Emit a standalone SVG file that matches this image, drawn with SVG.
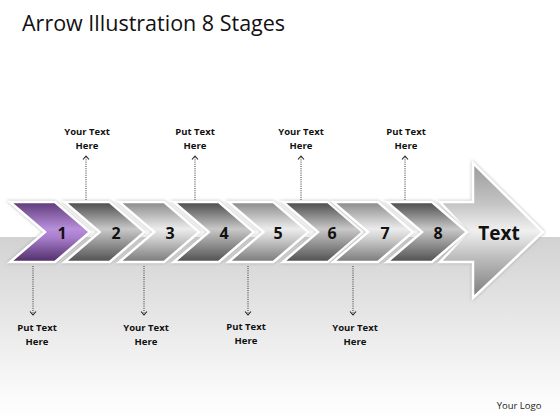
<svg xmlns="http://www.w3.org/2000/svg" width="560" height="420" viewBox="0 0 560 420">
<style>
.lbl{font-family:"Open Sans","Liberation Sans",sans-serif;font-weight:bold;font-size:9.5px;fill:#111;text-anchor:middle}
.num{font-family:"Open Sans","Liberation Sans",sans-serif;font-weight:bold;font-size:16px;fill:#111;text-anchor:middle}
.conn{stroke:#333;stroke-width:1;stroke-dasharray:1 1.2;fill:none}
.chev{stroke:#fff;stroke-width:2.5;stroke-linejoin:miter;filter:url(#glow)}
</style>
<defs>
<linearGradient id="bg" x1="0" y1="0" x2="0" y2="1">
<stop offset="0" stop-color="#d2d2d2"/>
<stop offset="0.85" stop-color="#fafafa"/>
<stop offset="1" stop-color="#ffffff"/>
</linearGradient>
<linearGradient id="purple" x1="0" y1="202" x2="0" y2="262" gradientUnits="userSpaceOnUse">
<stop offset="0" stop-color="#5e3a78"/>
<stop offset="0.45" stop-color="#b88fdc"/>
<stop offset="0.6" stop-color="#a77ccc"/>
<stop offset="1" stop-color="#4e2d66"/>
</linearGradient>
<linearGradient id="dark" x1="0" y1="202" x2="0" y2="262" gradientUnits="userSpaceOnUse">
<stop offset="0" stop-color="#4a4a4a"/>
<stop offset="0.45" stop-color="#c8c8c8"/>
<stop offset="0.6" stop-color="#a8a8a8"/>
<stop offset="1" stop-color="#505050"/>
</linearGradient>
<linearGradient id="light" x1="0" y1="202" x2="0" y2="262" gradientUnits="userSpaceOnUse">
<stop offset="0" stop-color="#8a8a8a"/>
<stop offset="0.45" stop-color="#ececec"/>
<stop offset="0.6" stop-color="#d0d0d0"/>
<stop offset="1" stop-color="#7a7a7a"/>
</linearGradient>
<linearGradient id="big" x1="0" y1="163" x2="0" y2="298" gradientUnits="userSpaceOnUse">
<stop offset="0" stop-color="#9a9a9a"/>
<stop offset="0.3" stop-color="#c4c4c4"/>
<stop offset="0.5" stop-color="#f0f0f0"/>
<stop offset="0.7" stop-color="#bdbdbd"/>
<stop offset="1" stop-color="#7c7c7c"/>
</linearGradient>
<filter id="glow" x="-20%" y="-20%" width="140%" height="140%">
<feDropShadow dx="0" dy="0" stdDeviation="1.5" flood-color="#888" flood-opacity="0.7"/>
</filter>
<marker id="ah" viewBox="0 0 8 8" refX="5" refY="4" markerWidth="8" markerHeight="8" markerUnits="userSpaceOnUse" orient="auto">
<path d="M1.5,1 L5,4 L1.5,7" fill="none" stroke="#222" stroke-width="1.1"/>
</marker>
</defs>
<rect x="0" y="0" width="560" height="420" fill="#fff"/>
<rect x="0" y="237" width="560" height="183" fill="url(#bg)"/>
<text x="22" y="31" font-family="Open Sans, Liberation Sans, sans-serif" font-size="21.5" fill="#111">Arrow Illustration 8 Stages</text>

<g id="connectors">
<line class="conn" x1="86" y1="200" x2="86" y2="156" marker-end="url(#ah)"/>
<line class="conn" x1="195" y1="200" x2="195" y2="156" marker-end="url(#ah)"/>
<line class="conn" x1="301" y1="200" x2="301" y2="156" marker-end="url(#ah)"/>
<line class="conn" x1="405" y1="200" x2="405" y2="156" marker-end="url(#ah)"/>
<line class="conn" x1="33" y1="266" x2="33" y2="315" marker-end="url(#ah)"/>
<line class="conn" x1="144" y1="266" x2="144" y2="315" marker-end="url(#ah)"/>
<line class="conn" x1="248" y1="266" x2="248" y2="315" marker-end="url(#ah)"/>
<line class="conn" x1="353" y1="266" x2="353" y2="315" marker-end="url(#ah)"/>
</g>

<g id="bigArrow">
<path class="chev" d="M440,202 L473,202 L473,163 L543,232 L473,298 L473,262 L440,262 L468,232 Z" fill="url(#big)"/>
<text x="499" y="240" font-family="Open Sans, Liberation Sans, sans-serif" font-weight="bold" font-size="19" fill="#111" text-anchor="middle">Text</text>
</g>
<g id="stage1"><path class="chev" d="M10,202 L55,202 L90,232 L55,262 L10,262 L45,232 Z" fill="url(#purple)"/><text class="num" x="62" y="239">1</text></g>
<g id="stage2"><path class="chev" d="M64.6,202 L109.6,202 L144.6,232 L109.6,262 L64.6,262 L99.6,232 Z" fill="url(#dark)"/><text class="num" x="116" y="239">2</text></g>
<g id="stage3"><path class="chev" d="M119.2,202 L164.2,202 L199.2,232 L164.2,262 L119.2,262 L154.2,232 Z" fill="url(#light)"/><text class="num" x="170" y="239">3</text></g>
<g id="stage4"><path class="chev" d="M173.8,202 L218.8,202 L253.8,232 L218.8,262 L173.8,262 L208.8,232 Z" fill="url(#dark)"/><text class="num" x="224" y="239">4</text></g>
<g id="stage5"><path class="chev" d="M228.4,202 L273.4,202 L308.4,232 L273.4,262 L228.4,262 L263.4,232 Z" fill="url(#light)"/><text class="num" x="278" y="239">5</text></g>
<g id="stage6"><path class="chev" d="M283,202 L328,202 L363,232 L328,262 L283,262 L318,232 Z" fill="url(#dark)"/><text class="num" x="332" y="239">6</text></g>
<g id="stage7"><path class="chev" d="M333,202 L378,202 L413,232 L378,262 L333,262 L368,232 Z" fill="url(#light)"/><text class="num" x="385" y="239">7</text></g>
<g id="stage8"><path class="chev" d="M387,202 L432,202 L467,232 L432,262 L387,262 L422,232 Z" fill="url(#dark)"/><text class="num" x="438" y="239">8</text></g>

<g id="label-top1"><text class="lbl" x="87" y="135">Your Text</text><text class="lbl" x="87" y="149">Here</text></g>
<g id="label-top2"><text class="lbl" x="195" y="135">Put Text</text><text class="lbl" x="195" y="149">Here</text></g>
<g id="label-top3"><text class="lbl" x="301" y="135">Your Text</text><text class="lbl" x="301" y="149">Here</text></g>
<g id="label-top4"><text class="lbl" x="406" y="135">Put Text</text><text class="lbl" x="406" y="149">Here</text></g>
<g id="label-bot1"><text class="lbl" x="37" y="331">Put Text</text><text class="lbl" x="37" y="345">Here</text></g>
<g id="label-bot2"><text class="lbl" x="146" y="331">Your Text</text><text class="lbl" x="146" y="345">Here</text></g>
<g id="label-bot3"><text class="lbl" x="246" y="330">Put Text</text><text class="lbl" x="246" y="344">Here</text></g>
<g id="label-bot4"><text class="lbl" x="355" y="331">Your Text</text><text class="lbl" x="355" y="345">Here</text></g>
<text x="519" y="409" font-family="Open Sans, Liberation Sans, sans-serif" font-size="9.5" fill="#222" text-anchor="middle">Your Logo</text>
</svg>
